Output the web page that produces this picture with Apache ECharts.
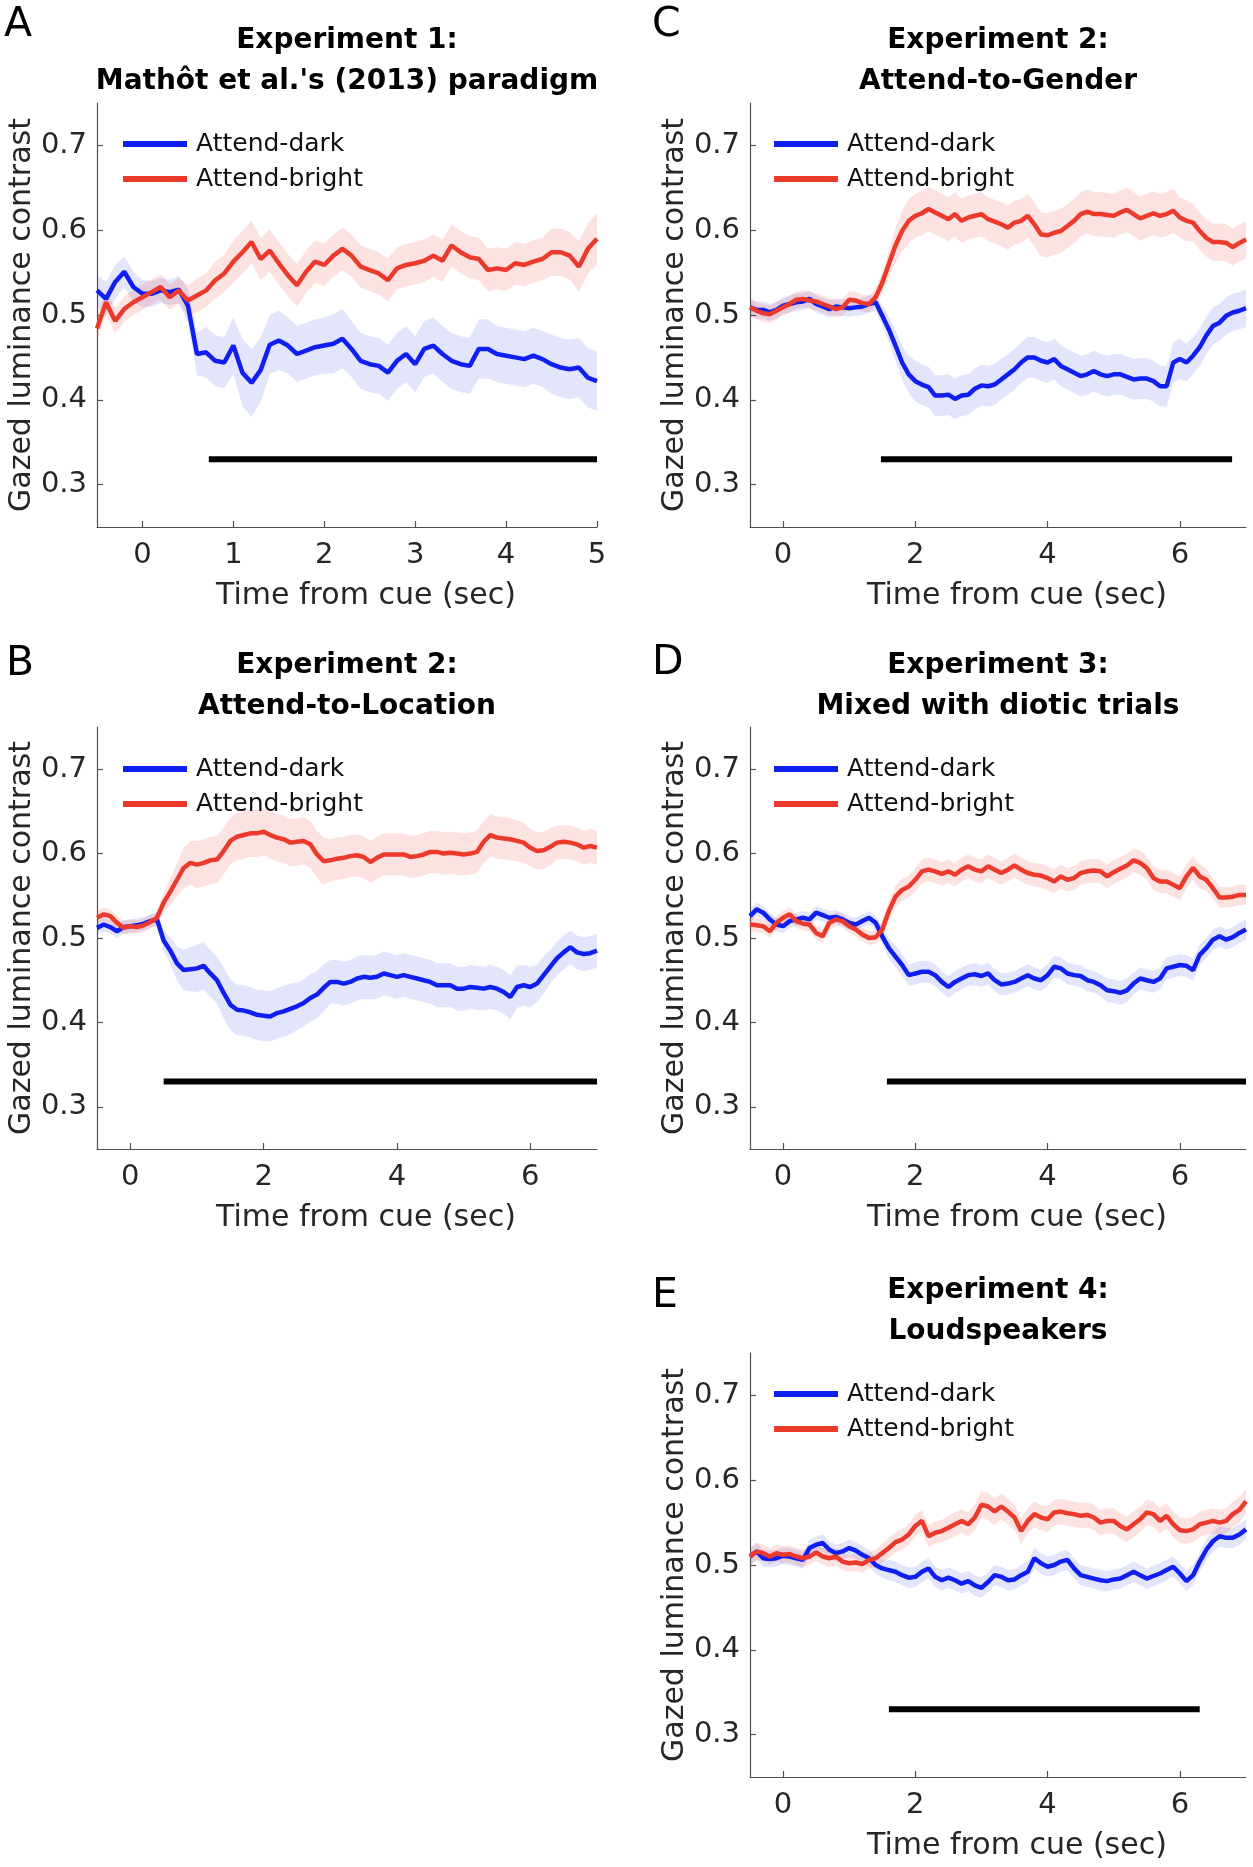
<!DOCTYPE html>
<html><head><meta charset="utf-8">
<script src="https://cdn.jsdelivr.net/npm/echarts@6/dist/echarts.min.js"></script>
<style>html,body{margin:0;padding:0;background:#fff}#c{width:1253px;height:1867px}</style>
</head><body><div id="c"></div>
<script>
// ---------------- data ----------------
const timesA = [-0.5,-0.4,-0.3,-0.2,-0.1,0,0.1,0.2,0.3,0.4,0.5,0.6,0.7,0.8,0.9,1.0,1.1,1.2,1.3,1.4,1.5,1.6,1.7,1.8,1.9,2.0,2.1,2.2,2.3,2.4,2.5,2.6,2.7,2.8,2.9,3.0,3.1,3.2,3.3,3.4,3.5,3.6,3.7,3.8,3.9,4.0,4.1,4.2,4.3,4.4,4.5,4.6,4.7,4.8,4.9,5.0];
const timesB = [-0.5,-0.4,-0.3,-0.2,-0.1,0,0.1,0.2,0.3,0.4,0.5,0.6,0.7,0.8,0.9,1.0,1.1,1.2,1.3,1.4,1.5,1.6,1.7,1.8,1.9,2.0,2.1,2.2,2.3,2.4,2.5,2.6,2.7,2.8,2.9,3.0,3.1,3.2,3.3,3.4,3.5,3.6,3.7,3.8,3.9,4.0,4.1,4.2,4.3,4.4,4.5,4.6,4.7,4.8,4.9,5.0,5.1,5.2,5.3,5.4,5.5,5.6,5.7,5.8,5.9,6.0,6.1,6.2,6.3,6.4,6.5,6.6,6.7,6.8,6.9,7.0];

const seriesNames = ['Attend-dark','Attend-bright'];
const yTicks = [0.3,0.4,0.5,0.6,0.7];
const xTicksA = [0,1,2,3,4,5];
const xTicksB = [0,2,4,6];
const sigLevel = 0.33;

// Panel A: Experiment 1
const darkA = [0.529,0.519,0.539,0.551,0.533,0.525,0.525,0.529,0.527,0.530,
 0.511,0.454,0.456,0.446,0.444,0.464,0.432,0.420,0.435,0.465,
 0.470,0.464,0.454,0.458,0.462,0.464,0.466,0.472,0.460,0.446,
 0.442,0.440,0.432,0.446,0.454,0.442,0.460,0.464,0.454,0.446,
 0.442,0.440,0.460,0.460,0.454,0.452,0.450,0.448,0.452,0.448,
 0.442,0.438,0.436,0.438,0.426,0.422];
const brightA = [0.484,0.515,0.493,0.507,0.515,0.521,0.527,0.533,0.521,0.529,
 0.517,0.523,0.529,0.541,0.549,0.563,0.574,0.586,0.566,0.576,
 0.561,0.547,0.535,0.551,0.563,0.559,0.570,0.578,0.570,0.557,
 0.553,0.549,0.541,0.555,0.559,0.561,0.564,0.570,0.564,0.582,
 0.574,0.568,0.566,0.553,0.555,0.553,0.561,0.559,0.563,0.566,
 0.574,0.574,0.570,0.557,0.578,0.590];
const seDarkA = [0.018,0.02,0.02,0.018,0.018,0.016,0.015,0.015,0.015,0.016,
 0.02,0.025,0.03,0.03,0.03,0.033,0.04,0.04,0.038,0.035,
 0.035,0.033,0.033,0.033,0.033,0.033,0.035,0.035,0.033,0.033,
 0.033,0.033,0.033,0.033,0.033,0.033,0.033,0.033,0.033,0.033,
 0.033,0.033,0.035,0.035,0.033,0.033,0.033,0.033,0.033,0.033,
 0.035,0.035,0.035,0.035,0.035,0.035];
const seBrightA = [0.015,0.015,0.015,0.015,0.015,0.015,0.015,0.015,0.015,0.015,
 0.018,0.02,0.02,0.022,0.022,0.025,0.025,0.025,0.025,0.025,
 0.025,0.025,0.025,0.025,0.025,0.025,0.025,0.025,0.025,0.025,
 0.025,0.025,0.025,0.025,0.025,0.025,0.025,0.025,0.025,0.025,
 0.025,0.025,0.025,0.025,0.025,0.025,0.025,0.025,0.025,0.025,
 0.028,0.028,0.028,0.03,0.03,0.03];
const sigA = [0.73, 5.0];

// Panel B: Experiment 2, Attend-to-Location
const darkB = [0.512,0.516,0.513,0.508,0.513,0.514,0.515,0.517,0.520,0.522,
 0.497,0.485,0.470,0.462,0.463,0.464,0.467,0.458,0.450,0.435,
 0.421,0.415,0.414,0.412,0.409,0.408,0.407,0.411,0.413,0.416,
 0.419,0.423,0.429,0.433,0.441,0.448,0.448,0.446,0.448,0.452,
 0.454,0.453,0.454,0.458,0.456,0.454,0.456,0.454,0.452,0.450,
 0.448,0.444,0.444,0.444,0.440,0.440,0.442,0.441,0.440,0.442,
 0.440,0.436,0.430,0.442,0.444,0.442,0.446,0.456,0.466,0.476,
 0.483,0.489,0.483,0.481,0.482,0.485];
const brightB = [0.524,0.528,0.526,0.518,0.512,0.514,0.513,0.515,0.519,0.524,
 0.542,0.555,0.569,0.583,0.589,0.587,0.589,0.592,0.593,0.603,
 0.615,0.620,0.622,0.624,0.624,0.626,0.622,0.619,0.617,0.613,
 0.614,0.615,0.611,0.599,0.591,0.592,0.594,0.595,0.597,0.598,
 0.596,0.590,0.595,0.599,0.599,0.599,0.599,0.596,0.597,0.599,
 0.602,0.602,0.600,0.601,0.600,0.599,0.600,0.602,0.614,0.622,
 0.619,0.618,0.617,0.615,0.613,0.607,0.603,0.604,0.608,0.613,
 0.614,0.613,0.611,0.607,0.609,0.607];
const seDarkB = [0.008,0.008,0.008,0.008,0.008,0.008,0.008,0.008,0.008,0.008,
 0.012,0.016,0.02,0.024,0.026,0.028,0.028,0.028,0.028,0.03,
 0.03,0.03,0.03,0.03,0.03,0.03,0.03,0.03,0.03,0.03,
 0.028,0.028,0.028,0.028,0.028,0.026,0.026,0.026,0.026,0.026,
 0.026,0.026,0.026,0.026,0.026,0.026,0.026,0.026,0.026,0.026,
 0.026,0.026,0.026,0.026,0.026,0.026,0.026,0.026,0.026,0.026,
 0.026,0.026,0.026,0.025,0.024,0.024,0.022,0.022,0.02,0.02,
 0.02,0.02,0.02,0.02,0.02,0.02];
const seBrightB = [0.008,0.008,0.008,0.008,0.008,0.008,0.008,0.008,0.008,0.008,
 0.012,0.016,0.02,0.024,0.026,0.028,0.028,0.028,0.028,0.028,
 0.028,0.028,0.028,0.028,0.028,0.028,0.028,0.028,0.028,0.028,
 0.028,0.028,0.028,0.028,0.028,0.025,0.025,0.025,0.025,0.025,
 0.025,0.025,0.025,0.025,0.025,0.025,0.025,0.025,0.025,0.025,
 0.025,0.025,0.025,0.025,0.025,0.025,0.025,0.025,0.025,0.025,
 0.025,0.025,0.025,0.024,0.024,0.022,0.022,0.022,0.022,0.02,
 0.02,0.02,0.02,0.02,0.02,0.02];
const sigB = [0.5, 7.0];

// Panel C: Experiment 2, Attend-to-Gender
const darkC = [0.509,0.506,0.506,0.503,0.506,0.511,0.513,0.515,0.516,0.519,
 0.513,0.510,0.507,0.510,0.509,0.508,0.509,0.510,0.513,0.515,
 0.499,0.483,0.464,0.444,0.430,0.422,0.418,0.415,0.405,0.405,
 0.406,0.401,0.405,0.406,0.413,0.417,0.416,0.418,0.424,0.430,
 0.436,0.444,0.450,0.450,0.446,0.444,0.448,0.440,0.436,0.432,
 0.428,0.430,0.434,0.430,0.428,0.430,0.430,0.427,0.424,0.425,
 0.425,0.422,0.416,0.416,0.444,0.448,0.444,0.452,0.462,0.476,
 0.487,0.491,0.499,0.503,0.505,0.508];
const brightC = [0.509,0.505,0.502,0.501,0.505,0.509,0.513,0.518,0.519,0.517,
 0.516,0.513,0.510,0.507,0.509,0.518,0.517,0.514,0.513,0.521,
 0.538,0.560,0.582,0.599,0.611,0.617,0.620,0.625,0.621,0.617,
 0.613,0.619,0.611,0.615,0.617,0.619,0.613,0.610,0.607,0.603,
 0.609,0.611,0.617,0.607,0.595,0.594,0.597,0.599,0.605,0.611,
 0.619,0.622,0.619,0.619,0.618,0.617,0.621,0.624,0.619,0.614,
 0.617,0.620,0.617,0.619,0.623,0.615,0.611,0.609,0.599,0.591,
 0.586,0.586,0.585,0.580,0.585,0.589];
const seDarkC = [0.01,0.01,0.01,0.01,0.01,0.01,0.01,0.01,0.01,0.01,
 0.01,0.01,0.01,0.01,0.01,0.01,0.01,0.01,0.01,0.01,
 0.012,0.015,0.018,0.02,0.022,0.024,0.024,0.024,0.024,0.024,
 0.024,0.024,0.024,0.024,0.024,0.024,0.024,0.024,0.024,0.024,
 0.024,0.024,0.024,0.024,0.024,0.024,0.024,0.024,0.024,0.024,
 0.024,0.024,0.024,0.024,0.024,0.024,0.024,0.024,0.024,0.024,
 0.024,0.024,0.024,0.024,0.024,0.024,0.022,0.022,0.022,0.022,
 0.022,0.022,0.022,0.022,0.022,0.022];
const seBrightC = [0.01,0.01,0.01,0.01,0.01,0.01,0.01,0.01,0.01,0.01,
 0.01,0.01,0.01,0.01,0.01,0.01,0.01,0.01,0.01,0.01,
 0.012,0.016,0.02,0.024,0.026,0.026,0.026,0.026,0.026,0.026,
 0.026,0.026,0.026,0.026,0.026,0.026,0.026,0.026,0.026,0.026,
 0.026,0.026,0.026,0.026,0.026,0.026,0.026,0.026,0.026,0.026,
 0.026,0.026,0.026,0.026,0.026,0.026,0.026,0.026,0.026,0.026,
 0.026,0.026,0.026,0.026,0.026,0.024,0.024,0.022,0.022,0.022,
 0.022,0.022,0.022,0.022,0.022,0.022];
const sigC = [1.48, 6.79];

// Panel D: Experiment 3
const darkD = [0.526,0.534,0.530,0.522,0.516,0.514,0.520,0.522,0.524,0.522,
 0.530,0.527,0.524,0.525,0.522,0.518,0.516,0.520,0.524,0.518,
 0.502,0.488,0.478,0.468,0.456,0.458,0.460,0.460,0.456,0.448,
 0.442,0.448,0.452,0.456,0.457,0.455,0.458,0.450,0.445,0.446,
 0.448,0.452,0.456,0.452,0.450,0.456,0.466,0.464,0.458,0.456,
 0.455,0.450,0.448,0.444,0.438,0.437,0.435,0.438,0.446,0.452,
 0.450,0.448,0.452,0.464,0.466,0.468,0.467,0.462,0.480,0.488,
 0.498,0.502,0.498,0.501,0.506,0.510];
const brightD = [0.516,0.515,0.514,0.508,0.518,0.524,0.528,0.520,0.517,0.516,
 0.506,0.502,0.518,0.522,0.520,0.514,0.510,0.504,0.500,0.501,
 0.510,0.532,0.549,0.557,0.561,0.569,0.579,0.581,0.579,0.576,
 0.579,0.575,0.581,0.585,0.581,0.579,0.585,0.581,0.577,0.581,
 0.586,0.581,0.577,0.575,0.574,0.571,0.567,0.573,0.569,0.571,
 0.577,0.579,0.580,0.579,0.573,0.578,0.582,0.586,0.592,0.589,
 0.583,0.571,0.567,0.567,0.563,0.559,0.573,0.583,0.573,0.569,
 0.559,0.548,0.548,0.549,0.551,0.551];
const seDarkD = [0.008,0.008,0.008,0.008,0.008,0.008,0.008,0.008,0.008,0.008,
 0.008,0.008,0.008,0.008,0.008,0.008,0.008,0.008,0.008,0.008,
 0.01,0.012,0.013,0.013,0.013,0.013,0.013,0.013,0.013,0.013,
 0.013,0.013,0.013,0.013,0.013,0.013,0.013,0.013,0.013,0.013,
 0.013,0.013,0.013,0.013,0.013,0.013,0.013,0.013,0.013,0.013,
 0.013,0.013,0.013,0.013,0.014,0.014,0.014,0.014,0.013,0.013,
 0.013,0.013,0.013,0.013,0.013,0.013,0.013,0.013,0.012,0.012,
 0.012,0.012,0.012,0.012,0.012,0.012];
const seBrightD = [0.008,0.008,0.008,0.008,0.008,0.008,0.008,0.008,0.008,0.008,
 0.008,0.008,0.008,0.008,0.008,0.008,0.008,0.008,0.008,0.008,
 0.01,0.012,0.013,0.013,0.013,0.014,0.014,0.014,0.014,0.014,
 0.014,0.014,0.014,0.014,0.014,0.014,0.014,0.014,0.014,0.014,
 0.014,0.014,0.014,0.014,0.014,0.014,0.014,0.014,0.014,0.014,
 0.014,0.014,0.014,0.014,0.014,0.014,0.014,0.014,0.014,0.014,
 0.014,0.014,0.014,0.014,0.014,0.014,0.014,0.014,0.014,0.013,
 0.012,0.012,0.012,0.012,0.012,0.012];
const sigD = [1.57, 7.0];

// Panel E: Experiment 4
const darkE = [0.510,0.516,0.508,0.507,0.508,0.511,0.510,0.508,0.506,0.520,
 0.524,0.526,0.518,0.514,0.516,0.520,0.517,0.512,0.508,0.500,
 0.496,0.494,0.492,0.488,0.485,0.486,0.492,0.496,0.486,0.482,
 0.485,0.482,0.478,0.481,0.476,0.473,0.480,0.488,0.486,0.482,
 0.483,0.488,0.492,0.508,0.502,0.498,0.500,0.504,0.506,0.496,
 0.488,0.486,0.484,0.482,0.481,0.483,0.484,0.488,0.492,0.488,
 0.484,0.487,0.490,0.494,0.498,0.490,0.481,0.488,0.504,0.518,
 0.528,0.534,0.532,0.532,0.536,0.542];
const brightE = [0.510,0.516,0.514,0.510,0.514,0.512,0.513,0.510,0.508,0.510,
 0.515,0.510,0.508,0.510,0.504,0.502,0.503,0.501,0.506,0.508,
 0.514,0.520,0.527,0.530,0.536,0.546,0.552,0.534,0.538,0.540,
 0.544,0.548,0.552,0.548,0.556,0.571,0.569,0.563,0.569,0.563,
 0.556,0.540,0.552,0.560,0.556,0.554,0.562,0.563,0.561,0.560,
 0.558,0.559,0.556,0.550,0.552,0.552,0.546,0.542,0.548,0.554,
 0.562,0.560,0.552,0.558,0.548,0.541,0.540,0.542,0.548,0.550,
 0.552,0.550,0.552,0.560,0.565,0.575];
const seDarkE = [0.01,0.01,0.01,0.01,0.01,0.01,0.01,0.01,0.01,0.01,
 0.01,0.01,0.01,0.01,0.01,0.01,0.01,0.01,0.01,0.01,
 0.011,0.012,0.012,0.012,0.012,0.012,0.012,0.012,0.012,0.012,
 0.012,0.012,0.012,0.012,0.012,0.012,0.012,0.012,0.012,0.012,
 0.012,0.012,0.012,0.012,0.012,0.012,0.012,0.012,0.012,0.012,
 0.012,0.012,0.012,0.012,0.012,0.012,0.012,0.012,0.012,0.012,
 0.012,0.012,0.012,0.012,0.012,0.012,0.012,0.012,0.012,0.012,
 0.012,0.012,0.012,0.012,0.012,0.012];
const seBrightE = [0.01,0.01,0.01,0.01,0.01,0.01,0.01,0.01,0.01,0.01,
 0.01,0.01,0.01,0.01,0.01,0.01,0.01,0.01,0.01,0.01,
 0.011,0.012,0.012,0.012,0.012,0.013,0.013,0.013,0.013,0.013,
 0.014,0.014,0.014,0.014,0.015,0.016,0.016,0.016,0.015,0.015,
 0.015,0.015,0.015,0.015,0.015,0.015,0.015,0.015,0.015,0.015,
 0.015,0.015,0.015,0.015,0.015,0.015,0.015,0.015,0.015,0.015,
 0.015,0.015,0.015,0.015,0.015,0.015,0.015,0.015,0.015,0.015,
 0.015,0.015,0.015,0.015,0.015,0.015];
const sigE = [1.6, 6.3];

// ---------------- layout / style ----------------
const FONT = "'DejaVu Sans', sans-serif";
const BLUE = '#0f1ff0', RED = '#eb3a2b';
const BLUE_BAND = 'rgba(40,55,235,0.13)', RED_BAND = 'rgba(235,60,45,0.15)';
const AXIS_COLOR = '#505050', TEXT_COLOR = '#262626';

const panels = [
  {letter:'A', title:"Experiment 1:\nMathôt et al.'s (2013) paradigm", t:timesA, dark:darkA, bright:brightA, seD:seDarkA, seB:seBrightA, sig:sigA, xmax:5, xticks:xTicksA,
   grid:{left:97, top:103, width:500, height:424}, letterXY:[4,25], titleTop:20, legend:[123,129]},
  {letter:'B', title:"Experiment 2:\nAttend-to-Location", t:timesB, dark:darkB, bright:brightB, seD:seDarkB, seB:seBrightB, sig:sigB, xmax:7, xticks:xTicksB,
   grid:{left:97, top:727, width:500, height:422}, letterXY:[6,664], titleTop:645, legend:[123,754]},
  {letter:'C', title:"Experiment 2:\nAttend-to-Gender", t:timesB, dark:darkC, bright:brightC, seD:seDarkC, seB:seBrightC, sig:sigC, xmax:7, xticks:xTicksB,
   grid:{left:750, top:103, width:496, height:424}, letterXY:[652,25], titleTop:20, legend:[774,129]},
  {letter:'D', title:"Experiment 3:\nMixed with diotic trials", t:timesB, dark:darkD, bright:brightD, seD:seDarkD, seB:seBrightD, sig:sigD, xmax:7, xticks:xTicksB,
   grid:{left:750, top:727, width:496, height:422}, letterXY:[652,663], titleTop:645, legend:[774,754]},
  {letter:'E', title:"Experiment 4:\nLoudspeakers", t:timesB, dark:darkE, bright:brightE, seD:seDarkE, seB:seBrightE, sig:sigE, xmax:7, xticks:xTicksB,
   grid:{left:750, top:1353, width:496, height:424}, letterXY:[652,1296], titleTop:1270, legend:[774,1379]}
];

function bandSeries(i, t, mean, se, color) {
  return {
    type:'custom', xAxisIndex:i, yAxisIndex:i, silent:true, z:1, clip:true,
    data: t.map((x,j)=>[x, mean[j]-se[j], mean[j]+se[j]]),
    encode:{x:0, y:[1,2]},
    renderItem: function(params, api) {
      if (params.dataIndex !== 0) return null;
      const up = [], lo = [];
      for (let j = 0; j < t.length; j++) {
        up.push(api.coord([t[j], mean[j] + se[j]]));
        lo.push(api.coord([t[j], mean[j] - se[j]]));
      }
      return {type:'polygon', shape:{points: up.concat(lo.reverse())}, style:{fill:color}, silent:true};
    }
  };
}

const grids = [], xAxes = [], yAxes = [], series = [], titles = [], legends = [], graphics = [];
panels.forEach((p, i) => {
  grids.push(Object.assign({containLabel:false}, p.grid));
  xAxes.push({
    gridIndex:i, type:'value', min:-0.5, max:p.xmax,
    axisLine:{show:true, onZero:false, lineStyle:{color:AXIS_COLOR, width:1.2}},
    axisTick:{show:true, inside:true, length:6, customValues:p.xticks, lineStyle:{color:AXIS_COLOR, width:1.2}},
    axisLabel:{customValues:p.xticks, fontSize:29, color:TEXT_COLOR, margin:14, fontFamily:FONT},
    splitLine:{show:false},
    name:'Time from cue (sec)', nameLocation:'middle', nameGap:54,
    nameTextStyle:{fontSize:30, color:TEXT_COLOR, fontFamily:FONT, padding:[0,0,0,38]}
  });
  yAxes.push({
    gridIndex:i, type:'value', min:0.25, max:0.75,
    axisLine:{show:true, onZero:false, lineStyle:{color:AXIS_COLOR, width:1.2}},
    axisTick:{show:true, inside:true, length:6, customValues:yTicks, lineStyle:{color:AXIS_COLOR, width:1.2}},
    axisLabel:{customValues:yTicks, fontSize:29, color:TEXT_COLOR, margin:10, fontFamily:FONT, formatter:v=>v.toFixed(1)},
    splitLine:{show:false},
    name:'Gazed luminance contrast', nameLocation:'middle', nameGap:58,
    nameTextStyle:{fontSize:30, color:TEXT_COLOR, fontFamily:FONT}
  });
  series.push(bandSeries(i, p.t, p.dark, p.seD, BLUE_BAND));
  series.push(bandSeries(i, p.t, p.bright, p.seB, RED_BAND));
  series.push({type:'line', name:seriesNames[0], xAxisIndex:i, yAxisIndex:i, data:p.t.map((x,j)=>[x,p.dark[j]]),
    symbol:'none', showSymbol:false, lineStyle:{color:BLUE, width:4.5}, itemStyle:{color:BLUE}, z:3});
  series.push({type:'line', name:seriesNames[1], xAxisIndex:i, yAxisIndex:i, data:p.t.map((x,j)=>[x,p.bright[j]]),
    symbol:'none', showSymbol:false, lineStyle:{color:RED, width:4.5}, itemStyle:{color:RED}, z:4});
  series.push({type:'line', name:'sig'+p.letter, xAxisIndex:i, yAxisIndex:i, data:[[p.sig[0],sigLevel],[p.sig[1],sigLevel]],
    symbol:'none', showSymbol:false, lineStyle:{color:'#000', width:6, cap:'butt'}, z:5, silent:true});
  titles.push({text:p.title, left:p.grid.left + p.grid.width/2, top:p.titleTop, textAlign:'center', padding:0,
    textStyle:{fontSize:28, fontWeight:'bold', lineHeight:41, color:'#000', fontFamily:FONT}});
  legends.push({left:p.legend[0], top:p.legend[1], orient:'vertical', icon:'rect', itemWidth:64, itemHeight:6, itemGap:5, padding:0,
    selectedMode:false, data:seriesNames, textStyle:{fontSize:25, lineHeight:30, color:'#111', fontFamily:FONT, padding:[0,0,0,4]}});
  graphics.push({type:'text', x:p.letterXY[0], y:p.letterXY[1],
    style:{text:p.letter, fontSize:41, fontFamily:FONT, fill:'#000', verticalAlign:'middle', align:'left'}});
});

const chart = echarts.init(document.getElementById('c'), null, {renderer:'canvas'});
chart.setOption({
  animation:false,
  backgroundColor:'#fff',
  textStyle:{fontFamily:FONT},
  title:titles, legend:legends, grid:grids, xAxis:xAxes, yAxis:yAxes, series:series, graphic:graphics
});
</script></body></html>
